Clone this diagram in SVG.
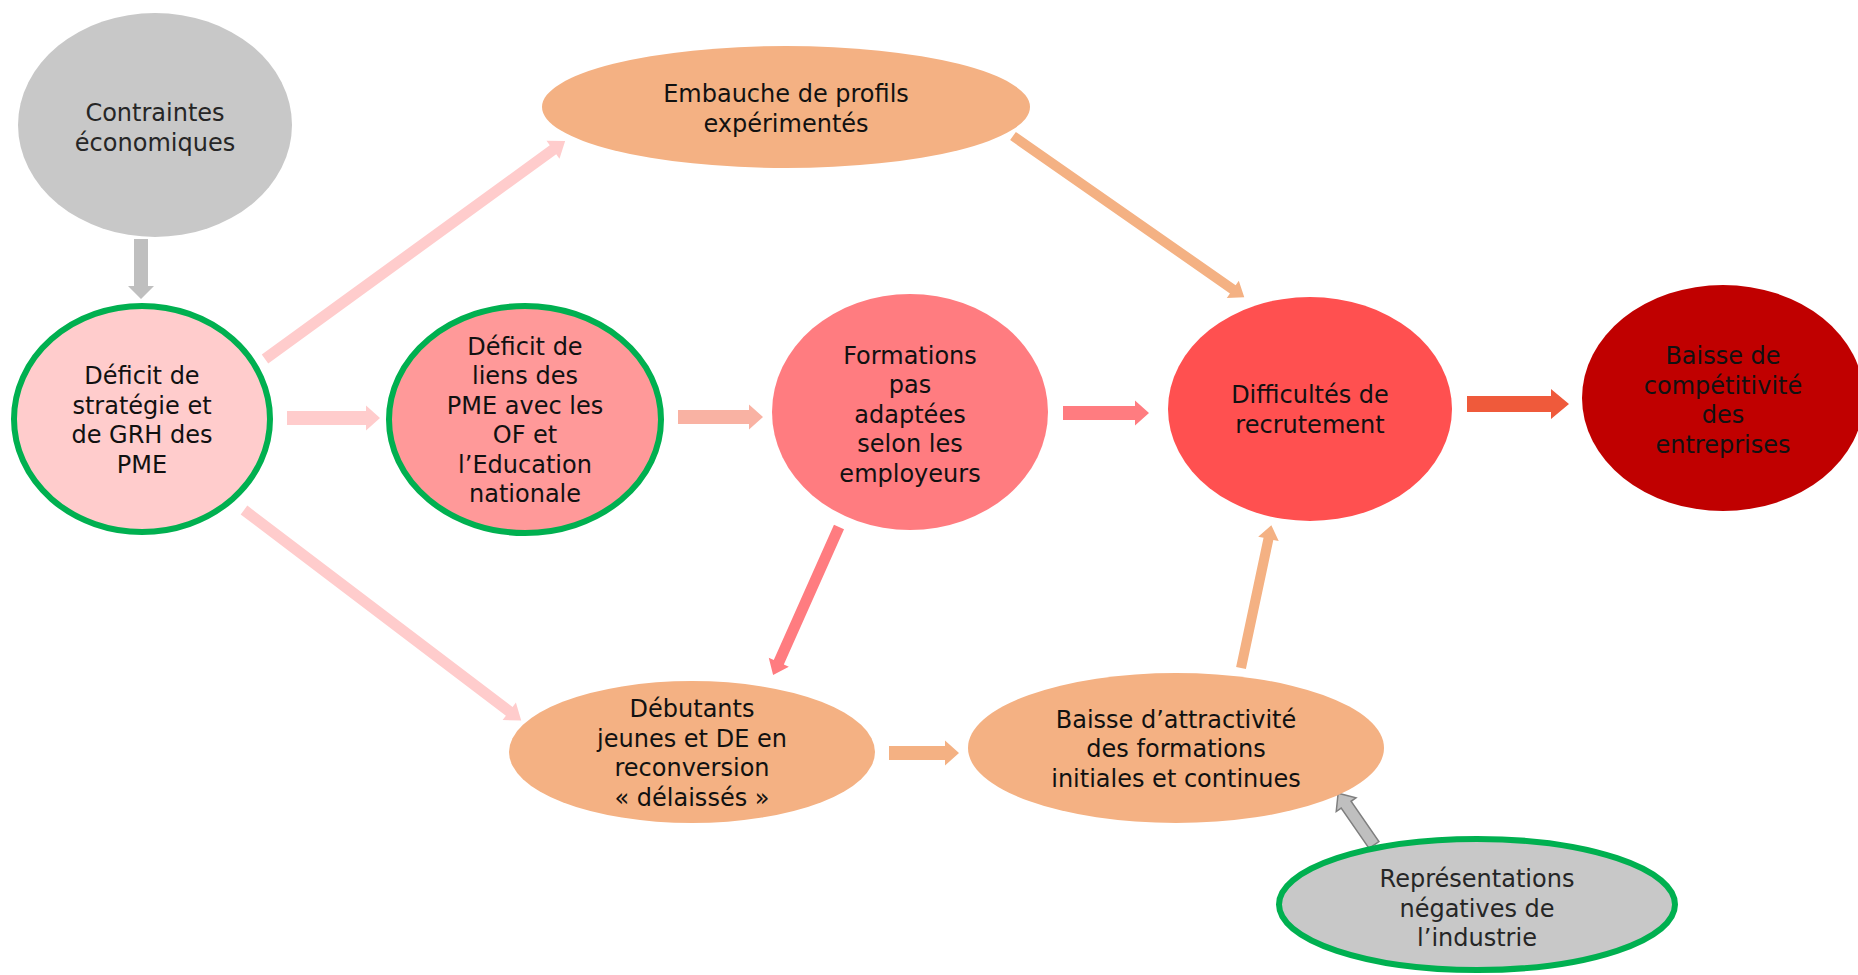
<svg xmlns="http://www.w3.org/2000/svg" width="1858" height="975" viewBox="0 0 1858 975">
<style>
text{font-family:"DejaVu Sans",Verdana,"Liberation Sans",sans-serif;font-size:24px;text-anchor:middle;fill:#111}
.gt{fill:#262626}
.green{stroke:#00b050;stroke-width:6}
.a-gray{fill:#bfbfbf}
.a-pink{fill:#ffcccc}
.a-salmon{fill:#f9b2a3}
.a-rose{fill:#ff7c80}
.a-orange{fill:#f4b183}
.a-red{fill:#ef5a3b}
.a-grayo{fill:#bfbfbf;stroke:#7f7f7f;stroke-width:1.5}
</style>
<rect width="1858" height="975" fill="#ffffff"/>
<g id="connectors">
<path class="a-gray" d="M0,-7H47V-13L60,0L47,13V7H0Z" transform="translate(141,239) rotate(90)"/>
<path class="a-pink" d="M0,-5.5H356V-11L371,0L356,11V5.5H0Z" transform="translate(265,359) rotate(-36)"/>
<path class="a-pink" d="M0,-7H79V-12.5L93,0L79,12.5V7H0Z" transform="translate(287,418)"/>
<path class="a-pink" d="M0,-5.5H333V-11L348,0L333,11V5.5H0Z" transform="translate(244,510) rotate(37.2)"/>
<path class="a-salmon" d="M0,-7H71V-12.5L85,0L71,12.5V7H0Z" transform="translate(678,417)"/>
<path class="a-rose" d="M0,-7H72V-12.5L86,0L72,12.5V7H0Z" transform="translate(1063,413)"/>
<path class="a-orange" d="M0,-5H268V-10.5L282,0L268,10.5V5H0Z" transform="translate(1013,136) rotate(34.9)"/>
<path class="a-rose" d="M0,-5.5H148V-11L162,0L148,11V5.5H0Z" transform="translate(839,527) rotate(114)"/>
<path class="a-orange" d="M0,-7H56V-12.5L70,0L56,12.5V7H0Z" transform="translate(889,753)"/>
<path class="a-orange" d="M0,-5H132V-10.5L146,0L132,10.5V5H0Z" transform="translate(1241,668) rotate(-78)"/>
<path class="a-red" d="M0,-8H84V-15L102,0L84,15V8H0Z" transform="translate(1467,404)"/>
<path class="a-grayo" d="M0,-6H49V-12L63,0L49,12V6H0Z" transform="translate(1374,845) rotate(-124.7)"/>
</g>
<g id="n-contraintes">
<ellipse cx="155" cy="125" rx="137" ry="112" fill="#c8c8c8"/>
<text class="gt" x="155" y="121">Contraintes</text>
<text class="gt" x="155" y="150.5">économiques</text>
</g>
<g id="n-deficit-strategie">
<ellipse class="green" cx="142" cy="419" rx="128" ry="113" fill="#ffcccc"/>
<text x="142" y="384">Déficit de</text>
<text x="142" y="414">stratégie et</text>
<text x="142" y="443">de GRH des</text>
<text x="142" y="473">PME</text>
</g>
<g id="n-deficit-liens">
<ellipse class="green" cx="525" cy="419.5" rx="136" ry="113.5" fill="#ff9999"/>
<text x="525" y="355">Déficit de</text>
<text x="525" y="384">liens des</text>
<text x="525" y="414">PME avec les</text>
<text x="525" y="443">OF et</text>
<text x="525" y="473">l’Education</text>
<text x="525" y="502">nationale</text>
</g>
<g id="n-formations">
<ellipse cx="910" cy="412" rx="138" ry="118" fill="#ff7c80"/>
<text x="910" y="363.5">Formations</text>
<text x="910" y="393">pas</text>
<text x="910" y="422.5">adaptées</text>
<text x="910" y="452">selon les</text>
<text x="910" y="481.5">employeurs</text>
</g>
<g id="n-embauche">
<ellipse cx="786" cy="107" rx="244" ry="61" fill="#f4b183"/>
<text x="786" y="102">Embauche de profils</text>
<text x="786" y="131.5">expérimentés</text>
</g>
<g id="n-difficultes">
<ellipse cx="1310" cy="409" rx="142" ry="112" fill="#ff5050"/>
<text x="1310" y="403">Difficultés de</text>
<text x="1310" y="432.5">recrutement</text>
</g>
<g id="n-competitivite">
<ellipse cx="1723" cy="398" rx="141" ry="113" fill="#c00000"/>
<text x="1723" y="364">Baisse de</text>
<text x="1723" y="393.5">compétitivité</text>
<text x="1723" y="423">des</text>
<text x="1723" y="452.5">entreprises</text>
</g>
<g id="n-debutants">
<ellipse cx="692" cy="752" rx="183" ry="71" fill="#f4b183"/>
<text x="692" y="717">Débutants</text>
<text x="692" y="746.5">jeunes et DE en</text>
<text x="692" y="776">reconversion</text>
<text x="692" y="805.5">« délaissés »</text>
</g>
<g id="n-attractivite">
<ellipse cx="1176" cy="748" rx="208" ry="75" fill="#f4b183"/>
<text x="1176" y="727.5">Baisse d’attractivité</text>
<text x="1176" y="757">des formations</text>
<text x="1176" y="786.5">initiales et continues</text>
</g>
<g id="n-representations">
<ellipse class="green" cx="1477" cy="904.5" rx="198" ry="65.5" fill="#c8c8c8"/>
<text class="gt" x="1477" y="887">Représentations</text>
<text class="gt" x="1477" y="916.5">négatives de</text>
<text class="gt" x="1477" y="946">l’industrie</text>
</g>
</svg>
